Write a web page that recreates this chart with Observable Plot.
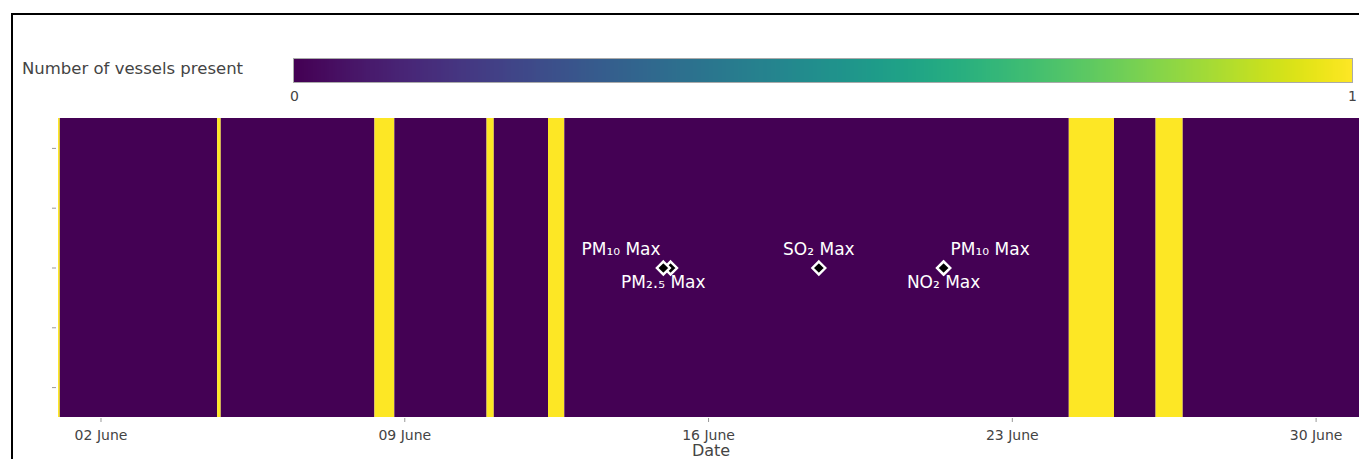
<!DOCTYPE html>
<html>
<head>
<meta charset="utf-8">
<script src="https://cdn.jsdelivr.net/npm/d3@7"></script>
<script src="https://cdn.jsdelivr.net/npm/@observablehq/plot@0.6"></script>
<style>
html, body { margin: 0; padding: 0; background: #fff; overflow: hidden; width: 1359px; height: 459px; }
#root { position: relative; width: 1359px; height: 459px; overflow: hidden; font-family: "DejaVu Sans", Verdana, sans-serif; }
#frame { position: absolute; left: 11px; top: 13px; width: 1500px; height: 600px; border: 2px solid #000; box-sizing: border-box; }
#cbtitle { position: absolute; left: 22px; top: 61px; font-size: 16.5px; line-height: 16.5px; color: #444; white-space: nowrap; }
#legend { position: absolute; left: 0; top: 49px; }
#cbborder { position: absolute; left: 293px; top: 58px; width: 1060px; height: 25px; box-sizing: border-box; border: 1px solid #aaa; }
#chart { position: absolute; left: 0; top: 110px; }
</style>
</head>
<body>
<div id="root">
  <div id="frame"></div>
  <div id="cbtitle">Number of vessels present</div>
  <div id="legend"></div>
  <div id="cbborder"></div>
  <div id="chart"></div>
</div>
<script>
// Vessel presence segments (hourly cells merged into runs)
const segStart = [
  "2023-06-01T00:30Z", "2023-06-01T01:30Z", "2023-06-04T16:30Z", "2023-06-04T18:30Z",
  "2023-06-08T07:30Z", "2023-06-08T18:30Z", "2023-06-10T21:30Z", "2023-06-11T01:30Z",
  "2023-06-12T07:30Z", "2023-06-12T16:30Z", "2023-06-24T07:30Z", "2023-06-25T08:30Z",
  "2023-06-26T07:30Z", "2023-06-26T22:30Z"
];
const segEnd = [
  "2023-06-01T01:30Z", "2023-06-04T16:30Z", "2023-06-04T18:30Z", "2023-06-08T07:30Z",
  "2023-06-08T18:30Z", "2023-06-10T21:30Z", "2023-06-11T01:30Z", "2023-06-12T07:30Z",
  "2023-06-12T16:30Z", "2023-06-24T07:30Z", "2023-06-25T08:30Z", "2023-06-26T07:30Z",
  "2023-06-26T22:30Z", "2023-07-01T00:00Z"
];
const vessels = [1, 0, 1, 0, 1, 0, 1, 0, 1, 0, 1, 0, 1, 0];

// Pollutant maxima markers
const markerDates = ["2023-06-15T03:00Z", "2023-06-14T23:00Z", "2023-06-18T13:00Z", "2023-06-21T10:00Z", "2023-06-21T10:00Z"];
const markerLabels = ["PM₁₀ Max", "PM₂.₅ Max", "SO₂ Max", "NO₂ Max", "PM₁₀ Max"];
const markerPositions = ["top left", "bottom center", "top center", "bottom center", "top right"];
const markerRow = [0, 0, 0, 0, 0];

// Axis ticks
const xTickDates = ["2023-06-02T00:00Z", "2023-06-09T00:00Z", "2023-06-16T00:00Z", "2023-06-23T00:00Z", "2023-06-30T00:00Z"];
const yTicks = [-0.4, -0.2, 0, 0.2, 0.4];
const colorTicks = [0, 1];
const xLabel = ["Date"];
const xDomain = ["2023-06-01T00:30Z", "2023-07-01T00:00Z"];
const yDomain = [-0.5, 0.5];

const segs = vessels.map((v, i) => ({start: new Date(segStart[i]), end: new Date(segEnd[i]), v}));
const markers = markerLabels.map((label, i) => ({
  date: new Date(markerDates[i]), label, pos: markerPositions[i], row: markerRow[i]
}));

const colorSpec = {type: "linear", scheme: "viridis", domain: [0, 1]};

// Colorbar
const leg = Plot.legend({
  color: colorSpec,
  width: 1359, height: 55,
  marginLeft: 294, marginRight: 7, marginTop: 10, marginBottom: 22,
  ticks: colorTicks, tickSize: 6, tickFormat: d3.format("d"),
  label: null,
  style: {fontFamily: "DejaVu Sans", fontSize: "14px", color: "#444", background: "transparent"}
});
leg.querySelectorAll(".tick line").forEach(l => l.remove());
document.getElementById("legend").appendChild(leg);

const textOpts = {x: "date", y: "row", text: "label", fill: "white", fontSize: 17, fontFamily: "DejaVu Sans"};

const chart = Plot.plot({
  width: 1359,
  height: 349,
  marginLeft: 58,
  marginRight: 0,
  marginTop: 8,
  marginBottom: 42,
  style: {fontFamily: "DejaVu Sans", fontSize: "13px", background: "transparent", overflow: "visible"},
  x: {type: "utc", domain: xDomain.map(d => new Date(d))},
  y: {domain: yDomain},
  color: colorSpec,
  marks: [
    Plot.rect(segs, {x1: "start", x2: "end", fill: "v"}),
    Plot.axisX({
      ticks: xTickDates.map(d => new Date(d)),
      tickFormat: d3.utcFormat("%d %B"),
      tickSize: 4, tickPadding: 8, dy: 1,
      stroke: "#999", fill: "#444", fontSize: 14, label: null
    }),
    Plot.axisY({ticks: yTicks, tickFormat: () => "", tickSize: 4, dx: -2, stroke: "#999", label: null}),
    Plot.dot(markers, {x: "date", y: "row", symbol: "diamond2", r: 5.8, fill: "black", stroke: "white", strokeWidth: 2.4}),
    Plot.text(markers.filter(d => d.pos === "top left"), {...textOpts, textAnchor: "end", dx: -10, dy: -18}),
    Plot.text(markers.filter(d => d.pos === "top center"), {...textOpts, textAnchor: "middle", dy: -18}),
    Plot.text(markers.filter(d => d.pos === "top right"), {...textOpts, textAnchor: "start", dx: 7, dy: -18}),
    Plot.text(markers.filter(d => d.pos === "bottom center"), {...textOpts, textAnchor: "middle", dy: 15}),
    Plot.text(xLabel, {frameAnchor: "bottom", text: d => d, lineAnchor: "top", dy: 27, dx: 2, fontSize: 16, fill: "#444"})
  ]
});
document.getElementById("chart").appendChild(chart);
</script>
</body>
</html>
